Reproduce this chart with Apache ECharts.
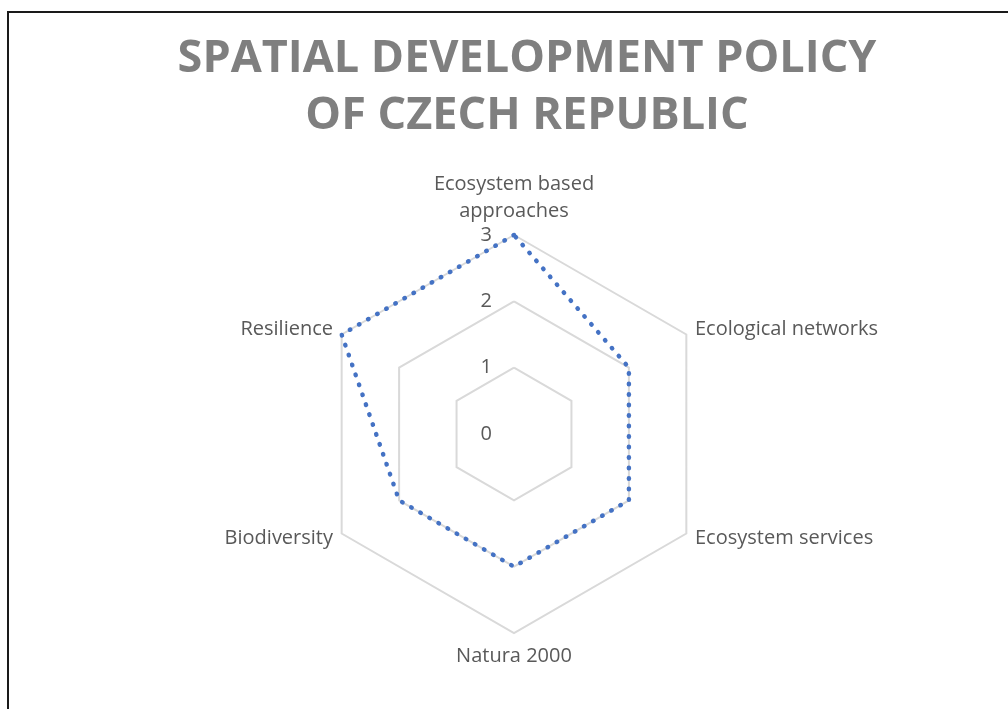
<!DOCTYPE html>
<html>
<head>
<meta charset="utf-8">
<script src="https://cdn.jsdelivr.net/npm/echarts@6/dist/echarts.min.js"></script>
<style>
html,body{margin:0;padding:0;background:#fff}
#chart{width:1008px;height:709px}
</style>
</head>
<body>
<div id="chart"></div>
<script>
// indicators and values (clockwise from top)
let indicatorNames = ["Ecosystem based\napproaches", "Ecological networks", "Ecosystem services", "Natura 2000", "Biodiversity", "Resilience"]
let policyValues = [3, 2, 2, 2, 2, 3]
let axisMax = 3

// echarts radar runs counterclockwise, so keep the first and flip the rest
function clockwise(arr) {
	return [arr[0]].concat(arr.slice(1).reverse())
}

let chart = echarts.init(document.getElementById("chart"))
chart.setOption({
	title: {
		text: "SPATIAL DEVELOPMENT POLICY\nOF CZECH REPUBLIC",
		left: 522,
		textAlign: "center",
		top: 26,
		textStyle: {
			fontFamily: "Open Sans",
			fontSize: 45,
			fontWeight: "bold",
			color: "#7f7f7f",
			lineHeight: 57
		}
	},
	graphic: [
		{
			type: "polyline",
			shape: { points: [[8, 709], [8, 12], [1008, 12]] },
			style: { stroke: "#1a1a1a", lineWidth: 2, fill: null }
		}
	],
	radar: {
		center: [514, 434],
		radius: 199,
		startAngle: 90,
		splitNumber: 3,
		shape: "polygon",
		nameGap: 10,
		axisName: {
			color: "#595959",
			fontFamily: "Open Sans",
			fontSize: 20,
			lineHeight: 27
		},
		splitLine: { lineStyle: { color: "#d9d9d9", width: 2 } },
		splitArea: { show: false },
		axisLine: { show: false },
		axisTick: { show: false },
		axisLabel: { show: false },
		indicator: clockwise(indicatorNames).map((n, i) => {
			let ind = { name: n, min: 0, max: axisMax }
			if (i === 0) {
				ind.axisLabel = {
					show: true,
					showMinLabel: true,
					color: "#595959",
					fontFamily: "Open Sans",
					fontSize: 20,
					margin: 22
				}
			}
			return ind
		})
	},
	series: [
		{
			type: "radar",
			symbol: "none",
			lineStyle: {
				color: "#4472c4",
				width: 4.5,
				type: [0.5, 10],
				cap: "round"
			},
			data: [{ value: clockwise(policyValues), name: "Spatial Development Policy" }]
		}
	]
})
</script>
</body>
</html>
